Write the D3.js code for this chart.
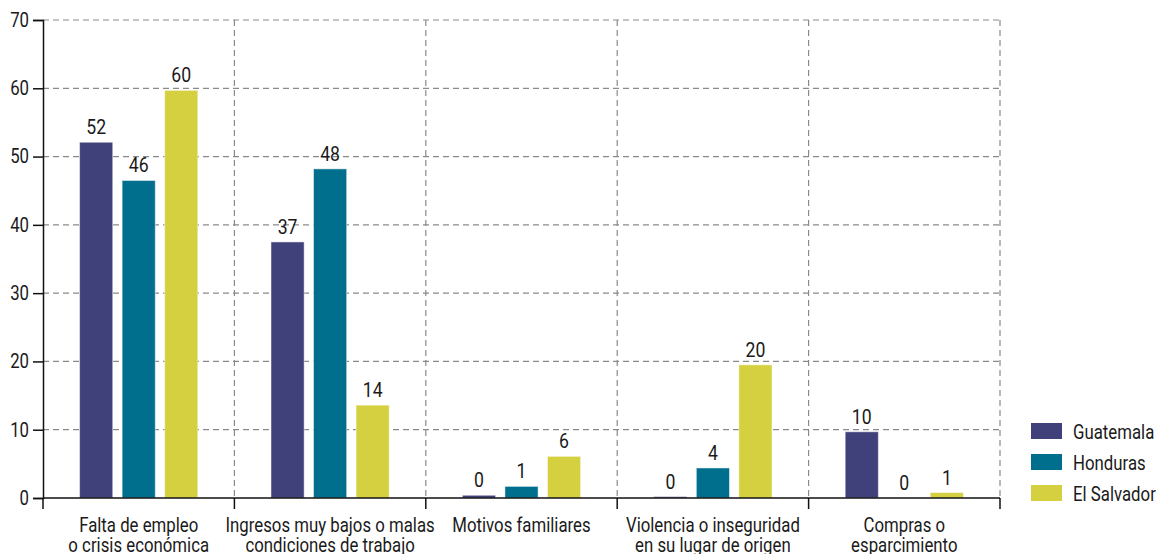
<!DOCTYPE html>
<html>
<head>
<meta charset="utf-8">
<script src="https://cdn.jsdelivr.net/npm/d3@7.9.0/dist/d3.min.js"></script>
<style>
  body { margin: 0; background: #fff; }
  svg { display: block; font-family: "Roboto", sans-serif; }
  .grid line { stroke: #8a8a8a; stroke-dasharray: 6 4; stroke-width: 1.2; }
  .axis text { fill: #1a1a1a; }
</style>
</head>
<body>
<div id="chart"></div>
<script>
const categories = [
  ['Falta de empleo', 'o crisis económica'],
  ['Ingresos muy bajos o malas', 'condiciones de trabajo'],
  ['Motivos familiares'],
  ['Violencia o inseguridad', 'en su lugar de origen'],
  ['Compras o', 'esparcimiento']
];
const countries = ['Guatemala', 'Honduras', 'El Salvador'];
const colors = ['#40407a', '#006f8d', '#d4d040'];

// bar heights
const guatemala = [52.1, 37.5, 0.4, 0.2, 9.7];
const honduras = [46.5, 48.2, 1.7, 4.4, 0];
const elSalvador = [59.7, 13.6, 6.1, 19.5, 0.8];
// printed labels
const guatemalaLabels = ['52', '37', '0', '0', '10'];
const hondurasLabels = ['46', '48', '1', '4', '0'];
const elSalvadorLabels = ['60', '14', '6', '20', '1'];
const yTicks = [0, 10, 20, 30, 40, 50, 60, 70];

const series = [guatemala, honduras, elSalvador];
const labels = [guatemalaLabels, hondurasLabels, elSalvadorLabels];

const width = 1161, height = 554;
const margin = { top: 20, right: 161, bottom: 56, left: 43 };
const squeeze = 0.84; // narrow the font horizontally, like a condensed face
const textColor = '#1a1a1a';

const svg = d3.select('#chart').append('svg')
  .attr('width', width).attr('height', height);

const x0 = d3.scaleBand()
  .domain(d3.range(categories.length))
  .range([margin.left, width - margin.right]);

const x1 = d3.scaleBand()
  .domain(d3.range(countries.length))
  .range([0, x0.bandwidth()])
  .paddingInner(0.22)
  .paddingOuter(0.86);

const y = d3.scaleLinear()
  .domain([0, 70])
  .range([height - margin.bottom, margin.top]);

// grid
const grid = svg.append('g').attr('class', 'grid');
grid.selectAll('line.h')
  .data(yTicks.slice(1))
  .join('line')
  .attr('class', 'h')
  .attr('x1', margin.left).attr('x2', width - margin.right)
  .attr('y1', d => y(d)).attr('y2', d => y(d));
grid.selectAll('line.v')
  .data(d3.range(1, categories.length + 1))
  .join('line')
  .attr('class', 'v')
  .attr('x1', d => x0(d - 1) + x0.bandwidth())
  .attr('x2', d => x0(d - 1) + x0.bandwidth())
  .attr('y1', y(70)).attr('y2', y(0));

// bars
const rows = [];
categories.forEach((c, i) => {
  countries.forEach((k, j) => {
    rows.push({ cat: i, country: j, value: series[j][i], label: labels[j][i] });
  });
});

svg.append('g').selectAll('rect')
  .data(rows)
  .join('rect')
  .attr('x', d => x0(d.cat) + x1(d.country))
  .attr('width', x1.bandwidth())
  .attr('y', d => y(d.value))
  .attr('height', d => y(0) - y(d.value))
  .attr('fill', d => colors[d.country])
  .attr('stroke', '#fff')
  .attr('stroke-opacity', 0.5)
  .attr('stroke-width', 1);

svg.append('g').selectAll('text')
  .data(rows)
  .join('text')
  .attr('transform', d => `translate(${x0(d.cat) + x1(d.country) + x1.bandwidth() / 2},${y(d.value) - 8}) scale(${squeeze},1)`)
  .attr('text-anchor', 'middle')
  .attr('font-size', 21)
  .attr('fill', textColor)
  .text(d => d.label);

// y axis
const yAxis = svg.append('g')
  .attr('class', 'axis')
  .attr('transform', `translate(${margin.left},0)`)
  .call(d3.axisLeft(y).tickValues(yTicks).tickSize(10).tickPadding(4));
yAxis.select('.domain').attr('stroke', '#111').attr('stroke-width', 1.5);
yAxis.selectAll('.tick line').attr('stroke', '#111').attr('stroke-width', 1.5);
yAxis.selectAll('.tick text')
  .attr('font-size', 20)
  .attr('font-family', 'Roboto, sans-serif')
  .attr('x', -14 / squeeze)
  .attr('transform', `scale(${squeeze},1)`);

// x axis
const xAxis = svg.append('g')
  .attr('transform', `translate(0,${y(0)})`);
xAxis.append('line')
  .attr('x1', margin.left).attr('x2', width - margin.right)
  .attr('stroke', '#111').attr('stroke-width', 1.5);
xAxis.selectAll('line.t')
  .data(d3.range(categories.length + 1))
  .join('line')
  .attr('class', 't')
  .attr('x1', d => margin.left + d * x0.step())
  .attr('x2', d => margin.left + d * x0.step())
  .attr('y1', 0).attr('y2', 11)
  .attr('stroke', '#111').attr('stroke-width', 1.5);

const catLabels = xAxis.selectAll('text')
  .data(categories)
  .join('text')
  .attr('text-anchor', 'middle')
  .attr('font-size', 20)
  .attr('fill', textColor)
  .attr('transform', (d, i) => `translate(${x0(i) + x0.bandwidth() / 2},34) scale(${squeeze},1)`);
catLabels.selectAll('tspan')
  .data(d => d)
  .join('tspan')
  .attr('x', 0)
  .attr('dy', (d, i) => i === 0 ? 0 : 20)
  .text(d => d);

// legend
const legend = svg.append('g')
  .attr('transform', 'translate(1031,423)');
const item = legend.selectAll('g')
  .data(countries)
  .join('g')
  .attr('transform', (d, i) => `translate(0,${i * 31})`);
item.append('rect')
  .attr('width', 31).attr('height', 16)
  .attr('fill', (d, i) => colors[i]);
item.append('text')
  .attr('transform', `translate(42,16) scale(${squeeze},1)`)
  .attr('font-size', 20)
  .attr('fill', textColor)
  .text(d => d);
</script>
</body>
</html>
